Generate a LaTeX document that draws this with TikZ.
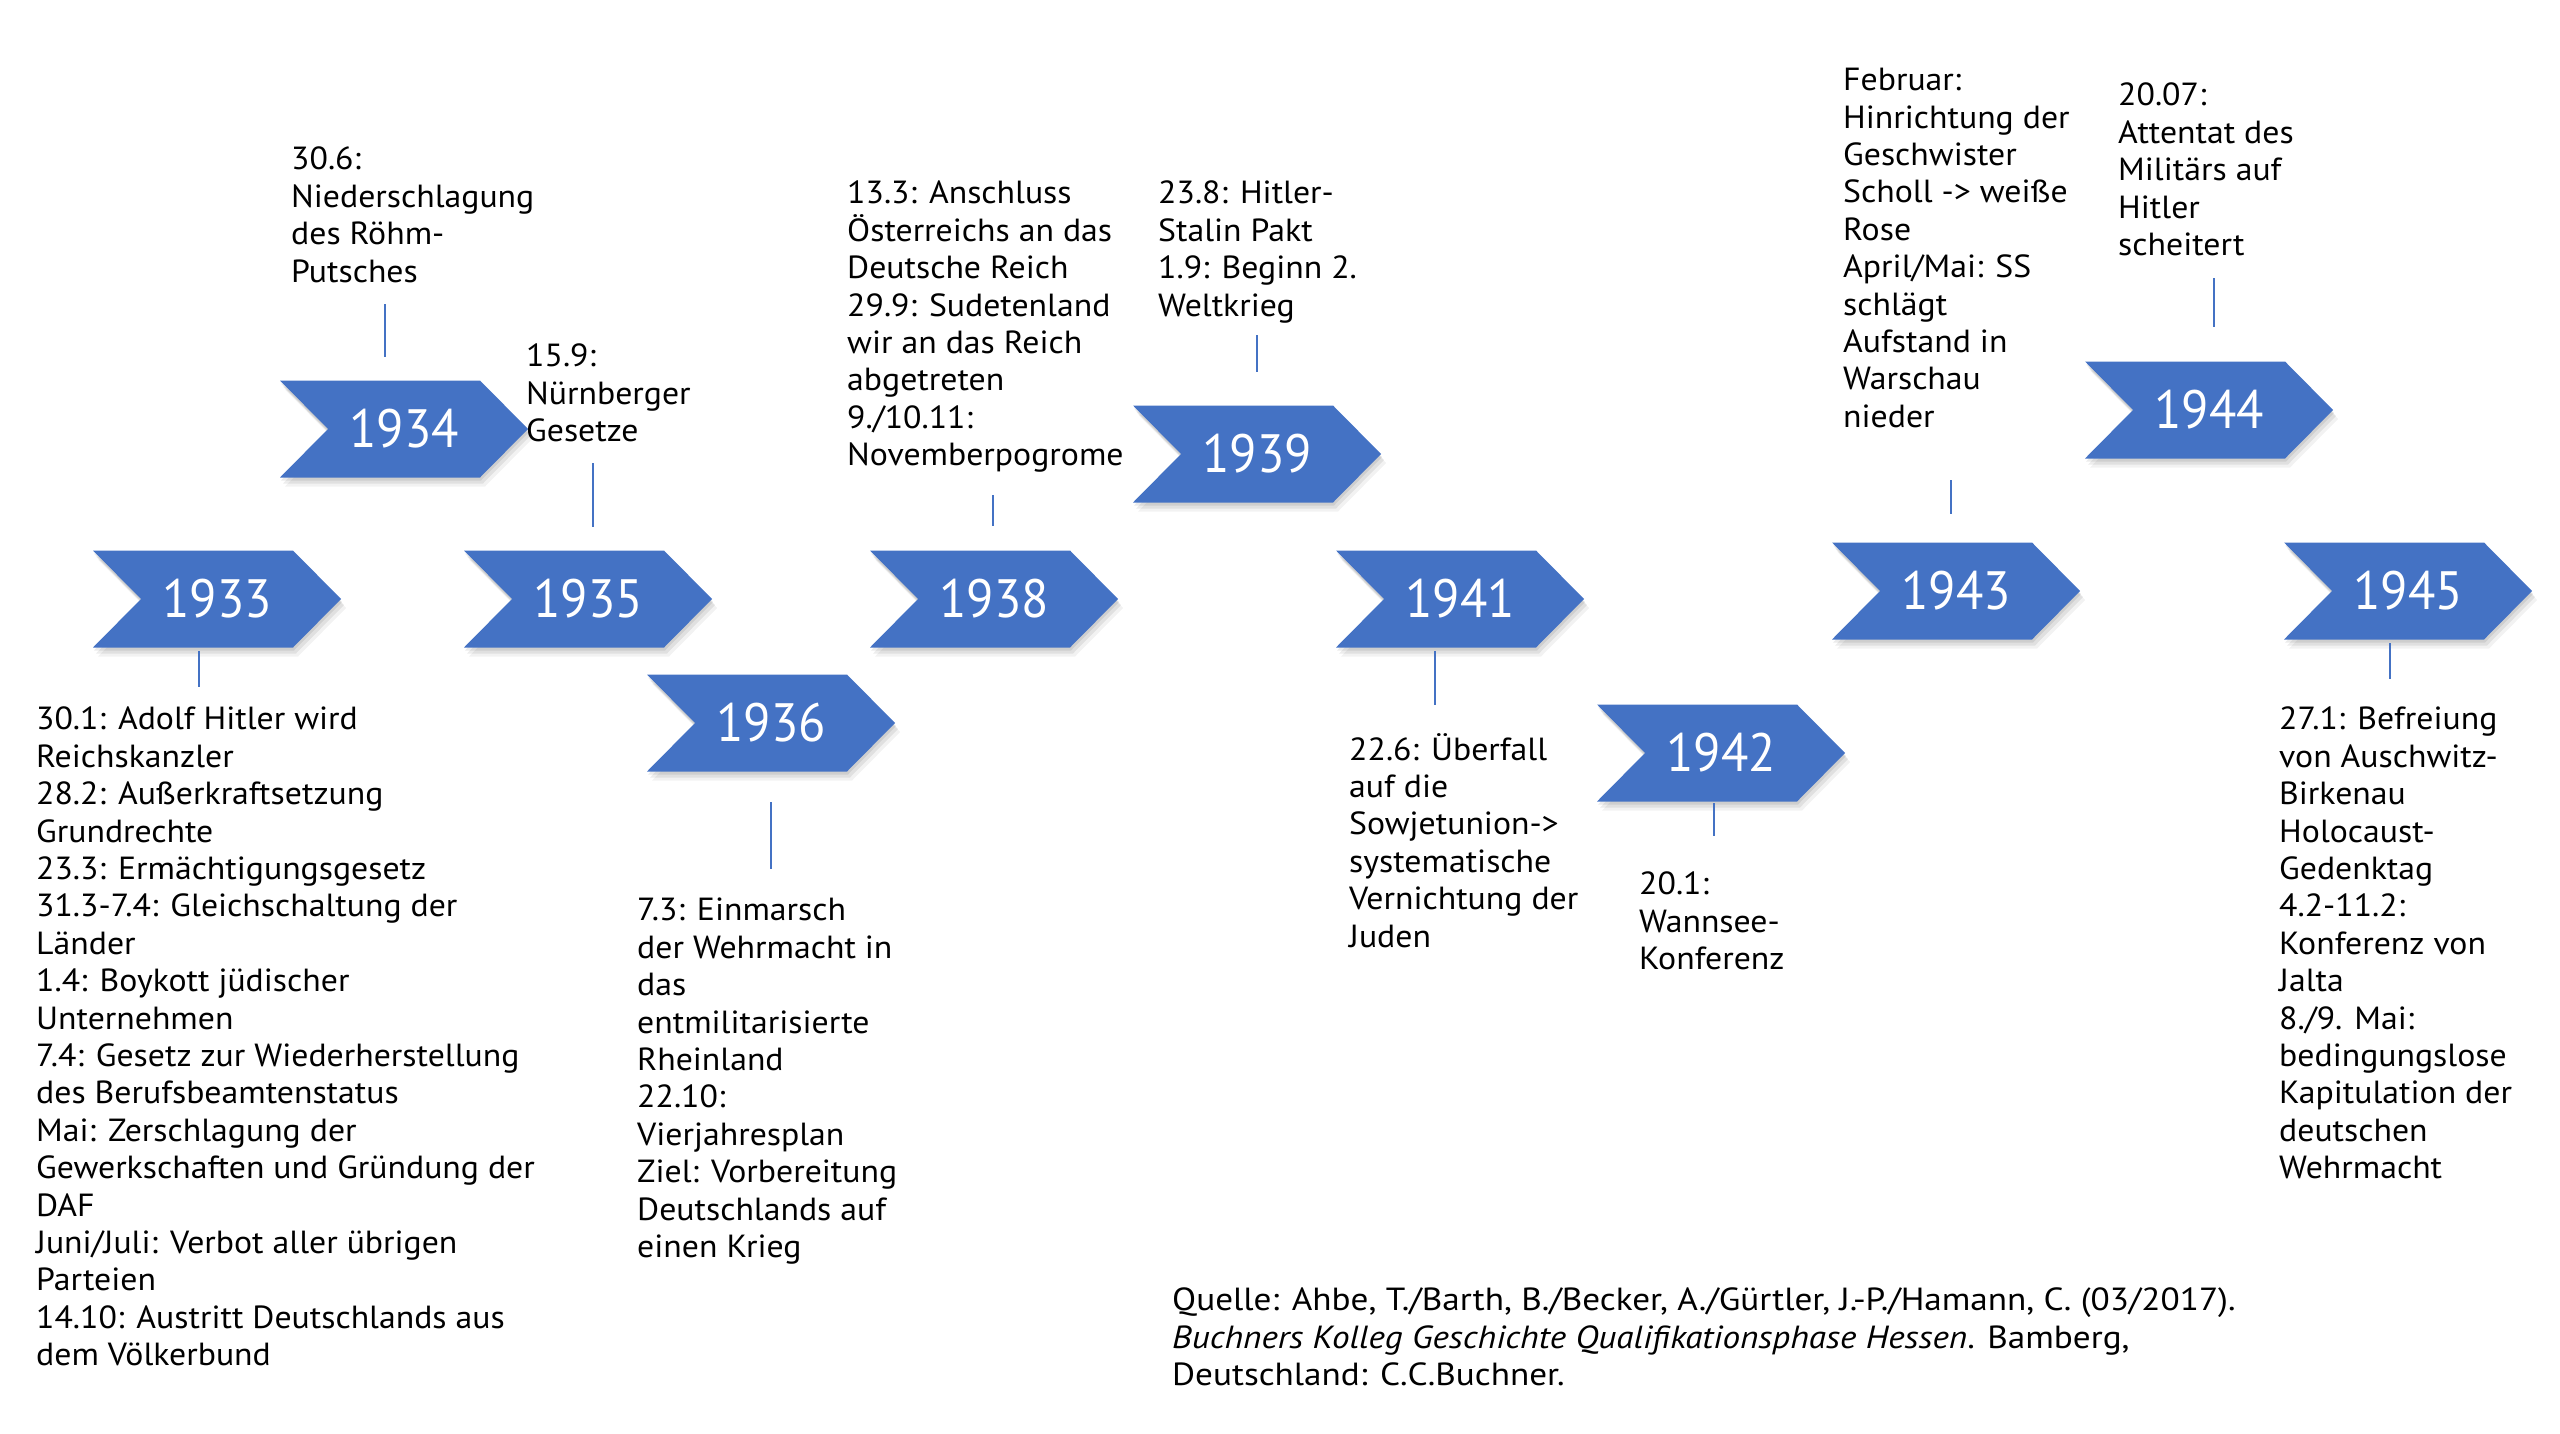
\documentclass[tikz,border=0pt]{standalone}
\usepackage{fontspec}
\setmainfont{PT Sans}
\newfontfamily\evtfont[FakeStretch=1.055]{PT Sans}
\newfontfamily\srcfont[FakeStretch=1.1]{PT Sans}
\newfontfamily\yrfont[FakeStretch=0.93]{PT Sans}
\definecolor{chev}{RGB}{68,114,196}
\newcommand\chevshape[3]{%
  \path[#3] (#1,#2-48.5) -- ++(200,0) -- ++(48,48.5) -- ++(-48,48.5) -- ++(-200,0) -- ++(48,-48.5) -- cycle;}
\newcommand\yearbox[4]{%
  \chevshape{#2+1}{#3+3}{fill=black,opacity=0.08}%
  \chevshape{#2+3}{#3+6}{fill=black,opacity=0.07}%
  \chevshape{#2+5}{#3+9}{fill=black,opacity=0.05}%
  \chevshape{#2}{#3}{fill=chev}%
  \node[yeartext] (#1) at (#2+124,#3) {#4};}
\newcommand\conn[4]{% name, x, y1, y2
  \coordinate (#1a) at (#2,#3);
  \coordinate (#1b) at (#2,#4);
  \draw[connline] (#1a) -- (#1b);}
\begin{document}
\begin{tikzpicture}[x=1pt,y=-1pt,
  yeartext/.style={text=white,font=\yrfont\fontsize{54}{60}\selectfont,inner sep=0pt},
  evt/.style={anchor=north west,align=left,inner sep=0pt,font=\evtfont\fontsize{32}{37.4}\selectfont},
  connline/.style={draw=chev,line width=1.6pt}]
\useasboundingbox[fill=white] (0,0) rectangle (2560,1434);
\yearbox{y1933}{93}{599}{1933}
\yearbox{y1934}{280}{429}{1934}
\yearbox{y1935}{464}{599}{1935}
\yearbox{y1936}{647}{723}{1936}
\yearbox{y1938}{870}{599}{1938}
\yearbox{y1939}{1133}{454}{1939}
\yearbox{y1941}{1336}{599}{1941}
\yearbox{y1942}{1597}{753}{1942}
\yearbox{y1943}{1832}{591}{1943}
\yearbox{y1944}{2085}{410}{1944}
\yearbox{y1945}{2284}{591}{1945}
\conn{c1933}{199}{651}{687}
\conn{c1934}{385}{304}{357}
\conn{c1935}{593}{463}{527}
\conn{c1936}{771}{802}{869}
\conn{c1938}{993}{495}{526}
\conn{c1939}{1257}{335}{372}
\conn{c1941}{1435}{651}{705}
\conn{c1942}{1714}{803}{836}
\conn{c1943}{1951}{480}{514}
\conn{c1944}{2214}{278}{327}
\conn{c1945}{2390}{643}{679}
\node[evt] (t1933) at (36,707) {30.1: Adolf Hitler wird\\Reichskanzler\\28.2: Außerkraftsetzung\\Grundrechte\\23.3: Ermächtigungsgesetz\\31.3-7.4: Gleichschaltung der\\Länder\\1.4: Boykott jüdischer\\Unternehmen\\7.4: Gesetz zur Wiederherstellung\\des Berufsbeamtenstatus\\Mai: Zerschlagung der\\Gewerkschaften und Gründung der\\DAF\\Juni/Juli: Verbot aller übrigen\\Parteien\\14.10: Austritt Deutschlands aus\\dem Völkerbund};
\node[evt] (t1934) at (291,147) {30.6:\\Niederschlagung\\des Röhm-\\Putsches};
\node[evt] (t1935) at (526,344) {15.9:\\Nürnberger\\Gesetze};
\node[evt] (t1936) at (637,898) {7.3: Einmarsch\\der Wehrmacht in\\das\\entmilitarisierte\\Rheinland\\22.10:\\Vierjahresplan\\Ziel: Vorbereitung\\Deutschlands auf\\einen Krieg};
\node[evt] (t1938) at (847,181) {13.3: Anschluss\\Österreichs an das\\Deutsche Reich\\29.9: Sudetenland\\wir an das Reich\\abgetreten\\9./10.11:\\Novemberpogrome};
\node[evt] (t1939) at (1158,181) {23.8: Hitler-\\Stalin Pakt\\1.9: Beginn 2.\\Weltkrieg};
\node[evt] (t1941) at (1349,733) {22.6: Überfall\\auf die\\Sowjetunion->\\systematische\\Vernichtung der\\Juden};
\node[evt] (t1942) at (1639,872) {20.1:\\Wannsee-\\Konferenz};
\node[evt] (t1943) at (1843,68) {Februar:\\Hinrichtung der\\Geschwister\\Scholl -> weiße\\Rose\\April/Mai: SS\\schlägt\\Aufstand in\\Warschau\\nieder};
\node[evt] (t1944) at (2118,83) {20.07:\\Attentat des\\Militärs auf\\Hitler\\scheitert};
\node[evt] (t1945) at (2279,707) {27.1: Befreiung\\von Auschwitz-\\Birkenau\\Holocaust-\\Gedenktag\\4.2-11.2:\\Konferenz von\\Jalta\\8./9. Mai:\\bedingungslose\\Kapitulation der\\deutschen\\Wehrmacht};
\node[evt,font=\srcfont\fontsize{32}{37.4}\selectfont] (src) at (1172,1288) {Quelle: Ahbe, T./Barth, B./Becker, A./Gürtler, J.-P./Hamann, C. (03/2017).\\\textit{Buchners Kolleg Geschichte Qualifikationsphase Hessen}. Bamberg,\\Deutschland: C.C.Buchner.};
\end{tikzpicture}
\end{document}
